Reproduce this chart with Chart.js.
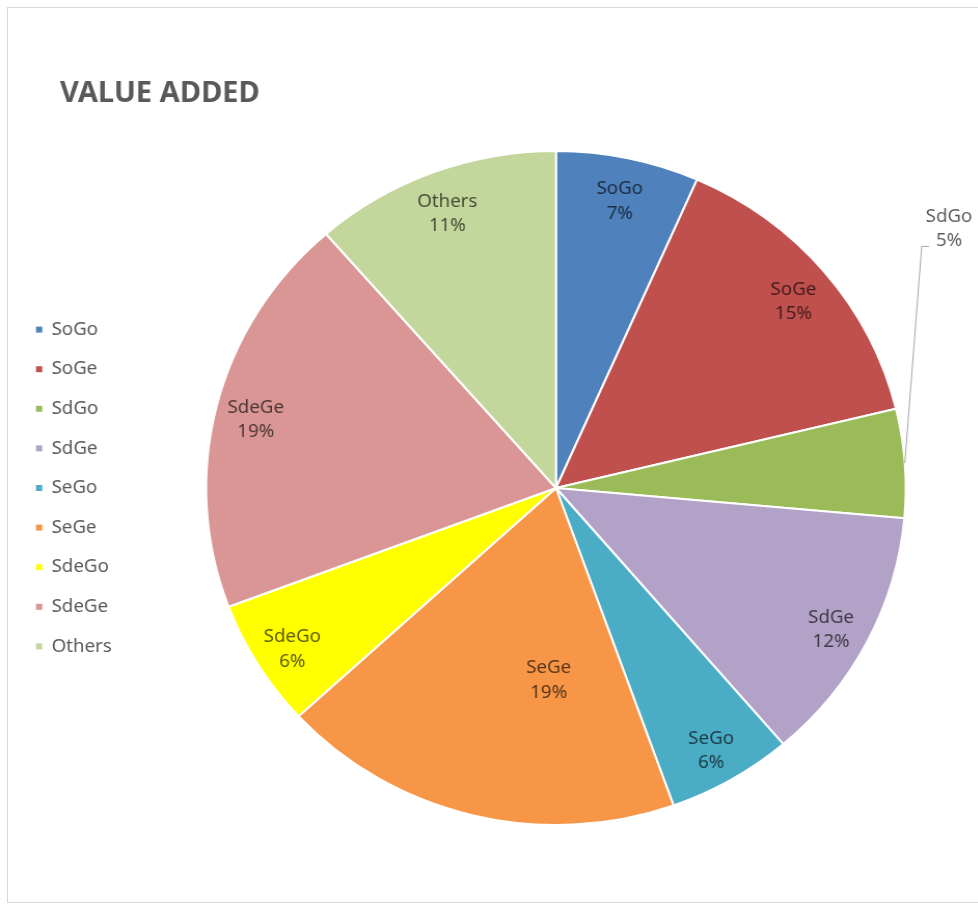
<!DOCTYPE html>
<html lang="en">
<head>
  <meta charset="UTF-8" />
  <title>Value Added</title>
  <script src="https://cdn.jsdelivr.net/npm/chart.js"></script>
  <style>
    html, body { margin: 0; padding: 0; background: #fff; overflow: hidden; }
    body { width: 978px; height: 904px; position: relative; }
    #frame { position: absolute; left: 7px; top: 7px; width: 1100px; height: 894px; border: 1px solid #d9d9d9; }
    /* the whole sheet is drawn a little wider than tall */
    #wrap { position: absolute; left: 0; top: 0; transform: scaleX(1.038); transform-origin: 0 0; }
  </style>
</head>
<body>
  <div id="frame"></div>
  <div id="wrap">
    <canvas id="pie" width="980" height="904"></canvas>
  </div>

  <script>
    const categories = ['SoGo', 'SoGe', 'SdGo', 'SdGe', 'SeGo', 'SeGe', 'SdeGo', 'SdeGe', 'Others'];
    const shares = [6.6, 14.6, 5.2, 12.3, 5.8, 18.6, 6.1, 19.3, 11.4];
    const sliceColors = ['#4f81bd', '#c0504d', '#9bbb59', '#b3a2c7', '#4bacc6', '#f79646', '#ffff00', '#d99694', '#c3d69b'];

    const FONT = '"Noto Sans", "Open Sans", sans-serif';

    // title in the top left corner
    const cornerTitle = {
      id: 'cornerTitle',
      afterDraw(chart) {
        const ctx = chart.ctx;
        ctx.save();
        ctx.font = 'bold 28px ' + FONT;
        ctx.fillStyle = '#595959';
        ctx.textAlign = 'left';
        ctx.textBaseline = 'alphabetic';
        ctx.fillText('VALUE ADDED', 57.8, 101.7);
        ctx.restore();
      }
    };

    // name + percent on every slice, one label pulled out with a leader line
    const sliceLabels = {
      id: 'sliceLabels',
      afterDatasetsDraw(chart, args, opts) {
        const ctx = chart.ctx;
        const meta = chart.getDatasetMeta(0);
        const total = shares.reduce((a, b) => a + b, 0);
        const lh = opts.lineHeight;
        ctx.save();
        ctx.font = opts.size + 'px ' + FONT;
        ctx.fillStyle = 'rgba(0, 0, 0, 0.65)';
        ctx.textAlign = 'center';
        ctx.textBaseline = 'middle';
        meta.data.forEach((arc, i) => {
          const p = arc.getProps(['x', 'y', 'startAngle', 'endAngle', 'outerRadius'], true);
          const mid = (p.startAngle + p.endAngle) / 2;
          const pct = Math.round(shares[i] / total * 100) + '%';
          let cx, cy;
          if (i === opts.outside.index) {
            const ex = p.x + Math.cos(mid) * p.outerRadius;
            const ey = p.y + Math.sin(mid) * p.outerRadius;
            const o = opts.outside;
            ctx.strokeStyle = '#a6a6a6';
            ctx.lineWidth = 1;
            ctx.beginPath();
            ctx.moveTo(ex, ey);
            ctx.lineTo(ex + o.elbow[0], ey + o.elbow[1]);
            ctx.lineTo(ex + o.elbow[0] + o.tick, ey + o.elbow[1]);
            ctx.stroke();
            cx = ex + o.text[0];
            cy = ey + o.text[1];
          } else {
            // [fraction along the slice, fraction of the radius]
            const a = opts.anchor[i] || [0.5, opts.depth];
            const ang = p.startAngle + (p.endAngle - p.startAngle) * a[0];
            cx = p.x + Math.cos(ang) * p.outerRadius * a[1];
            cy = p.y + Math.sin(ang) * p.outerRadius * a[1] + opts.shiftY;
          }
          ctx.fillText(categories[i], cx, cy - lh / 2);
          ctx.fillText(pct, cx, cy + lh / 2);
        });
        ctx.restore();
      }
    };

    new Chart(document.getElementById('pie'), {
      type: 'pie',
      data: {
        labels: categories,
        datasets: [{
          data: shares,
          backgroundColor: sliceColors,
          borderColor: '#ffffff',
          borderWidth: 2
        }]
      },
      options: {
        responsive: false,
        animation: false,
        layout: { padding: { left: 13.1, top: 150, right: 21.9, bottom: 78 } },
        plugins: {
          tooltip: { enabled: false },
          legend: {
            position: 'left',
            maxWidth: 100,
            labels: {
              boxWidth: 6,
              boxHeight: 6,
              padding: 21.6,
              color: '#595959',
              font: { family: FONT, size: 18 },
              generateLabels(chart) {
                return Chart.overrides.pie.plugins.legend.labels.generateLabels(chart)
                  .map(item => Object.assign(item, { lineWidth: 0 }));
              }
            }
          },
          sliceLabels: {
            size: 18,
            lineHeight: 24.5,
            depth: 0.885,
            shiftY: 5,
            anchor: { 5: [0.325, 0.557] },
            outside: { index: 2, elbow: [16.3, -216.7], tick: 7, text: [42.6, -234.2] }
          }
        }
      },
      plugins: [sliceLabels, cornerTitle]
    });
  </script>
</body>
</html>
